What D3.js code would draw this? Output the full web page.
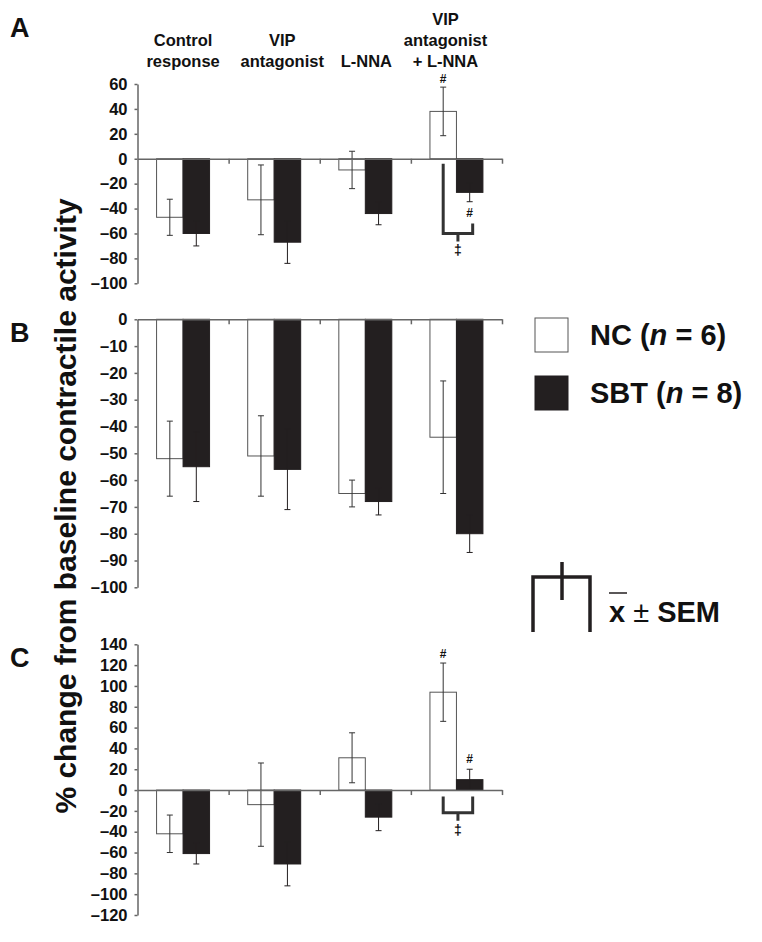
<!DOCTYPE html>
<html>
<head>
<meta charset="utf-8">
<script src="https://cdn.jsdelivr.net/npm/d3@7"></script>
<style>
  body { margin: 0; background: #fff; }
  svg { font-family: "Liberation Sans", Arial, sans-serif; }
  text { fill: #111; }
  .tick text { font-size: 16.5px; font-weight: bold; fill: #111; }
  .axis path, .axis line { stroke: #666; stroke-width: 1.5; }
</style>
</head>
<body>
<svg width="762" height="942"></svg>
<script>
// categories and series
const categories = [["Control", "response"], ["VIP", "antagonist"], ["L-NNA"], ["VIP", "antagonist", "+ L-NNA"]];
const series = ["NC", "SBT"];

// panel A
const aNC = [-47, -33, -9, 38];
const aNCsem = [14.5, 28, 15, 19.5];
const aSBT = [-60, -67, -44, -27];
const aSBTsem = [10, 17, 9, 7.5];
// panel B
const bNC = [-52, -51, -65, -44];
const bNCsem = [14, 15, 5, 21];
const bSBT = [-55, -56, -68, -80];
const bSBTsem = [13, 15, 5, 7];
// panel C
const cNC = [-42, -14, 31, 94];
const cNCsem = [18, 40, 24, 28];
const cSBT = [-61, -71, -26, 10];
const cSBTsem = [10, 21, 13, 10];

const aTicks = d3.range(-100, 61, 20);
const bTicks = d3.range(-100, 1, 10);
const cTicks = d3.range(-120, 141, 20);

const svg = d3.select("svg");
const dark = "#231f20";
const left = 137.5, right = 502;

const x0 = d3.scaleBand().domain(d3.range(categories.length)).range([left, right]).paddingInner(0);
const x1 = d3.scaleBand().domain(series).range([0, x0.bandwidth()]).paddingInner(0).paddingOuter(0.72);
const xb = d3.scaleLinear().domain([0, categories.length]).range([left, right]);
const fmt = d => (d < 0 ? "\u2013" + Math.abs(d) : "" + d);

function panel(letter, letterY, domain, yRange, ticks, nc, ncSem, sbt, sbtSem) {
  const y = d3.scaleLinear().domain(domain).range(yRange);
  const g = svg.append("g");

  g.append("text").attr("x", 10).attr("y", letterY)
    .style("font-size", "27px").style("font-weight", "bold").text(letter);

  g.append("g").attr("class", "axis")
    .attr("transform", `translate(${left},0)`)
    .call(d3.axisLeft(y).tickValues(ticks).tickSize(3).tickSizeOuter(0).tickPadding(7).tickFormat(fmt));

  const rows = [];
  categories.forEach((c, i) => {
    rows.push({ i, s: "NC", v: nc[i], e: ncSem[i] });
    rows.push({ i, s: "SBT", v: sbt[i], e: sbtSem[i] });
  });

  g.selectAll("rect.bar").data(rows).join("rect")
    .attr("class", "bar")
    .attr("x", d => x0(d.i) + x1(d.s))
    .attr("width", x1.bandwidth())
    .attr("y", d => y(Math.max(0, d.v)))
    .attr("height", d => Math.abs(y(d.v) - y(0)))
    .attr("fill", d => d.s === "NC" ? "#fff" : dark)
    .attr("stroke", d => d.s === "NC" ? "#555" : dark)
    .attr("stroke-width", 1);

  const cx = d => x0(d.i) + x1(d.s) + x1.bandwidth() / 2;
  const eb = g.selectAll("g.err").data(rows).join("g").attr("class", "err")
    .attr("stroke", d => d.s === "NC" ? "#333" : dark).attr("stroke-width", 1);
  eb.append("line").attr("x1", cx).attr("x2", cx)
    .attr("y1", d => y(d.v - d.e)).attr("y2", d => y(d.v + d.e));
  eb.append("line").attr("x1", d => cx(d) - 3).attr("x2", d => cx(d) + 3)
    .attr("y1", d => y(d.v - d.e)).attr("y2", d => y(d.v - d.e));
  eb.append("line").attr("x1", d => cx(d) - 3).attr("x2", d => cx(d) + 3)
    .attr("y1", d => y(d.v + d.e)).attr("y2", d => y(d.v + d.e));

  g.append("g").attr("class", "axis")
    .attr("transform", `translate(0,${y(0)})`)
    .call(d3.axisBottom(xb).tickValues([1, 2, 3, 4]).tickSize(5).tickSizeOuter(0).tickFormat(""));

  return { y, rows, cx, g };
}

// category labels above panel A
const labelShift = [0, 8, 1, -11];
categories.forEach((c, i) => {
  const t = svg.append("text")
    .attr("text-anchor", "middle")
    .style("font-size", "16.5px").style("font-weight", "bold");
  c.forEach((line, k) => {
    t.append("tspan")
      .attr("x", x0(i) + x0.bandwidth() / 2 + labelShift[i])
      .attr("y", 67 - (c.length - 1 - k) * 21)
      .text(line);
  });
});

const A = panel("A", 37, [-100, 60], [283.3, 84], aTicks, aNC, aNCsem, aSBT, aSBTsem);
const B = panel("B", 342, [-100, 0], [587.3, 319.3], bTicks, bNC, bNCsem, bSBT, bSBTsem);
const C = panel("C", 667, [-120, 140], [915, 644.3], cTicks, cNC, cNCsem, cSBT, cSBTsem);

// significance marks
function mark(p, row, above, sym, off) {
  const d = p.rows[row];
  const yy = above ? p.y(d.v + d.e) - off : p.y(d.v - d.e) + off;
  p.g.append("text").attr("x", p.cx(d)).attr("y", yy + 4)
    .attr("text-anchor", "middle").style("font-size", "12px").style("font-weight", "bold")
    .text(sym);
}
function bracket(p, leftTop, rightTop, base) {
  const xl = p.cx(p.rows[6]), xr = p.cx(p.rows[7]) + 3, xm = (xl + xr) / 2;
  const yb = p.y(base);
  p.g.append("path")
    .attr("d", `M${xl},${p.y(leftTop)}V${yb}H${xr}V${p.y(rightTop)}M${xm},${yb}v8`)
    .attr("fill", "none").attr("stroke", "#333").attr("stroke-width", 3);
  p.g.append("text").attr("x", xm).attr("y", yb + 22)
    .attr("text-anchor", "middle").attr("fill", "#111")
    .style("font-size", "14px").style("font-weight", "bold")
    .text("\u2021");
}
mark(A, 6, true, "#", 8);
mark(A, 7, false, "#", 11);
bracket(A, -4, -52, -60);
mark(C, 6, true, "#", 9);
mark(C, 7, true, "#", 10);
bracket(C, -6.3, -6.3, -21.7);

// y-axis title
svg.append("text")
  .attr("transform", "translate(76,506) rotate(-90)")
  .attr("text-anchor", "middle")
  .style("font-size", "30px").style("font-weight", "bold")
  .text("% change from baseline contractile activity");

// legend
const legend = [
  { label: "NC", n: 6, fill: "#fff", stroke: "#555" },
  { label: "SBT", n: 8, fill: dark, stroke: dark }
];
legend.forEach((l, i) => {
  const yy = 318 + i * 58;
  svg.append("rect").attr("x", 535).attr("y", yy).attr("width", 33).attr("height", 34)
    .attr("fill", l.fill).attr("stroke", l.stroke).attr("stroke-width", 1);
  const t = svg.append("text").attr("x", 590).attr("y", yy + 27)
    .style("font-size", "29px").style("font-weight", "bold");
  t.append("tspan").text(l.label + " (");
  t.append("tspan").style("font-style", "italic").text("n");
  t.append("tspan").text(" = " + l.n + ")");
});

// mean +/- SEM key
svg.append("path")
  .attr("d", "M533,632V577H590V632M562,562V600")
  .attr("fill", "none").attr("stroke", dark).attr("stroke-width", 3.5);
const key = svg.append("text").attr("x", 609).attr("y", 622).style("font-size", "29px");
key.append("tspan").style("font-weight", "bold").text("x");
key.append("tspan").text(" \u00b1 ");
key.append("tspan").style("font-weight", "bold").text("SEM");
svg.append("line").attr("x1", 609).attr("x2", 627).attr("y1", 593).attr("y2", 593)
  .attr("stroke", dark).attr("stroke-width", 1.5);
</script>
</body>
</html>
